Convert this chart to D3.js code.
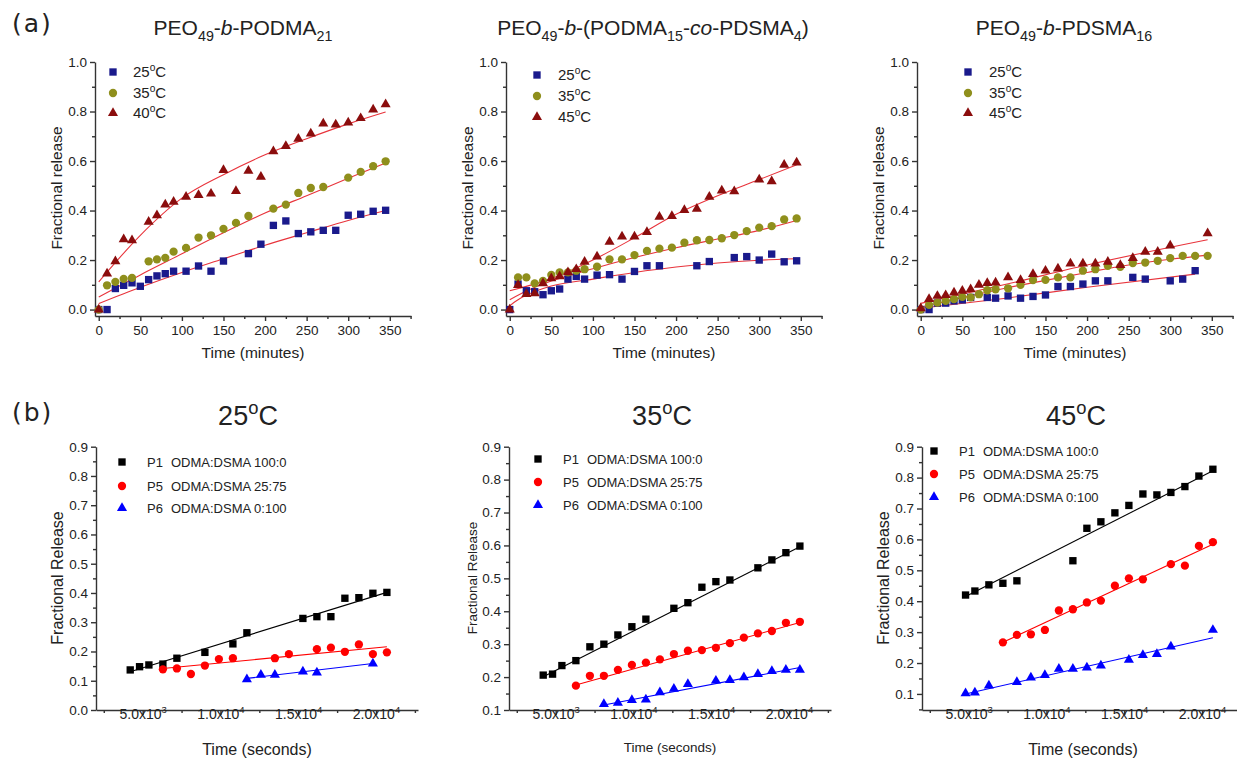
<!DOCTYPE html>
<html>
<head>
<meta charset="utf-8">
<script src="https://cdn.jsdelivr.net/npm/d3@7"></script>
<style>
  body { margin: 0; background: #fff; }
  svg { display: block; }
  text { font-family: "Liberation Sans", Arial, sans-serif; fill: #222; }
</style>
</head>
<body>
<div id="fig"></div>
<script>
// ---------- row (a): fractional release vs time (minutes) ----------
const a1_25C = [[0,0],[10,0],[20,.085],[30,.098],[40,.108],[50,.094],[60,.121],[70,.136],[80,.145],[90,.155],[105,.155],[120,.176],[135,.155],[150,.196],[180,.226],[195,.264],[210,.34],[225,.358],[240,.307],[255,.314],[270,.32],[285,.32],[300,.381],[315,.385],[330,.397],[345,.401]];
const a1_35C = [[0,0],[10,.098],[20,.112],[30,.124],[40,.128],[60,.195],[70,.203],[80,.209],[90,.234],[105,.249],[120,.291],[135,.3],[150,.326],[165,.35],[180,.378],[210,.408],[225,.424],[240,.471],[255,.491],[270,.495],[300,.533],[315,.556],[330,.579],[345,.599]];
const a1_40C = [[0,0],[10,.145],[20,.195],[30,.284],[40,.28],[60,.354],[70,.381],[80,.424],[90,.435],[105,.455],[120,.462],[135,.468],[150,.563],[165,.479],[180,.56],[195,.536],[210,.639],[225,.66],[240,.69],[255,.711],[270,.751],[285,.747],[300,.755],[315,.773],[330,.808],[345,.829]];
const a1_25C_fit = [[0,.024],[50,.09],[100,.15],[150,.205],[200,.26],[250,.31],[300,.36],[345,.40]];
const a1_35C_fit = [[0,.051],[50,.14],[100,.225],[150,.31],[200,.39],[250,.46],[300,.53],[345,.592]];
const a1_40C_fit = [[0,.112],[50,.30],[100,.45],[150,.545],[200,.625],[250,.69],[300,.75],[345,.798]];

const a2_25C = [[0,0],[10,.103],[20,.076],[30,.072],[40,.06],[50,.076],[60,.083],[70,.123],[80,.134],[90,.123],[105,.139],[120,.141],[135,.123],[150,.154],[165,.177],[180,.177],[225,.177],[240,.194],[270,.21],[285,.214],[300,.2],[315,.224],[330,.193],[345,.197]];
const a2_35C = [[10,.13],[20,.13],[30,.106],[40,.116],[50,.14],[60,.15],[70,.15],[80,.157],[90,.163],[105,.173],[120,.203],[135,.203],[150,.22],[165,.237],[180,.246],[195,.25],[210,.27],[225,.28],[240,.281],[255,.288],[270,.301],[285,.317],[300,.331],[315,.337],[330,.364],[345,.368]];
const a2_45C = [[0,0],[10,.099],[20,.063],[30,.066],[40,.106],[50,.126],[60,.134],[70,.15],[80,.163],[90,.193],[105,.214],[120,.274],[135,.295],[150,.295],[165,.313],[180,.375],[195,.378],[210,.402],[225,.407],[240,.455],[255,.481],[270,.478],[300,.525],[315,.518],[330,.585],[345,.594]];
const a2_25C_fit = [[0,.016],[10,.04],[20,.058],[50,.095],[100,.123],[150,.15],[200,.172],[250,.188],[300,.199],[345,.205]];
const a2_35C_fit = [[0,.04],[20,.075],[50,.115],[100,.165],[150,.21],[200,.25],[250,.285],[300,.32],[345,.36]];
const a2_45C_fit = [[0,.076],[50,.125],[100,.2],[150,.29],[200,.385],[250,.46],[300,.525],[345,.585]];

const a3_25C = [[0,0],[10,0],[20,.026],[30,.026],[40,.035],[50,.039],[60,.049],[80,.049],[90,.046],[105,.055],[120,.046],[135,.053],[150,.059],[165,.093],[180,.093],[195,.103],[210,.116],[225,.116],[255,.13],[270,.123],[300,.116],[315,.123],[330,.157]];
const a3_35C = [[0,0],[10,.019],[20,.028],[30,.035],[40,.042],[50,.051],[60,.049],[70,.062],[80,.078],[90,.082],[105,.086],[120,.1],[135,.119],[150,.12],[165,.13],[180,.13],[195,.157],[210,.163],[225,.177],[240,.173],[255,.188],[270,.19],[285,.197],[300,.208],[315,.217],[330,.217],[345,.217]];
const a3_45C = [[0,.005],[10,.042],[20,.055],[30,.058],[40,.069],[50,.076],[60,.082],[70,.1],[80,.107],[90,.109],[105,.13],[120,.119],[135,.143],[150,.157],[165,.166],[180,.186],[195,.186],[210,.186],[225,.193],[240,.18],[255,.208],[270,.233],[285,.233],[300,.258],[345,.308]];
const a3_25C_fit = [[0,.005],[100,.045],[200,.09],[330,.143]];
const a3_35C_fit = [[0,.01],[50,.048],[100,.085],[150,.118],[200,.15],[250,.18],[300,.203],[345,.22]];
const a3_45C_fit = [[0,.025],[100,.1],[200,.18],[345,.282]];

// ---------- row (b): fractional release vs time (seconds) ----------
const b1_P1 = [[4200,.137],[4800,.148],[5400,.154],[6300,.157],[7200,.177],[9000,.197],[10800,.226],[11700,.264],[15300,.313],[16200,.319],[17100,.319],[18000,.382],[18900,.384],[19800,.399],[20700,.402]];
const b1_P5 = [[6300,.139],[7200,.142],[8100,.123],[9000,.152],[9900,.174],[10800,.177],[13500,.177],[14400,.191],[16200,.208],[17100,.213],[18000,.199],[18900,.224],[19800,.191],[20700,.197]];
const b1_P6 = [[11700,.105],[12600,.12],[13500,.12],[15300,.131],[16200,.128],[19800,.159]];
const b1_P1_fit = [[4200,.131],[20700,.402]];
const b1_P5_fit = [[6300,.142],[20700,.216]];
const b1_P6_fit = [[11700,.108],[19800,.159]];

const b2_P1 = [[4200,.206],[4800,.209],[5400,.235],[6300,.25],[7200,.292],[8100,.3],[9000,.328],[9900,.353],[10800,.376],[12600,.409],[13500,.426],[14400,.473],[15300,.49],[16200,.495],[18000,.532],[18900,.556],[19800,.578],[20700,.598]];
const b2_P5 = [[6300,.174],[7200,.204],[8100,.204],[9000,.222],[9900,.237],[10800,.244],[11700,.254],[12600,.27],[13500,.28],[14400,.282],[15300,.289],[16200,.303],[17100,.32],[18000,.333],[18900,.34],[19800,.365],[20700,.368]];
const b2_P6 = [[8100,.118],[9000,.122],[9900,.13],[10800,.132],[11700,.154],[12600,.164],[13500,.179],[15300,.189],[16200,.191],[17100,.199],[18000,.209],[18900,.218],[19800,.222],[20700,.222]];
const b2_P1_fit = [[4200,.201],[20700,.596]];
const b2_P5_fit = [[6300,.176],[20700,.366]];
const b2_P6_fit = [[8100,.115],[20700,.229]];

const b3_P1 = [[4800,.42],[5400,.433],[6300,.453],[7200,.458],[8100,.466],[11700,.531],[12600,.636],[13500,.657],[14400,.686],[15300,.71],[16200,.747],[17100,.744],[18000,.752],[18900,.771],[19800,.805],[20700,.827]];
const b3_P5 = [[7200,.267],[8100,.291],[9000,.293],[9900,.307],[10800,.37],[11700,.374],[12600,.396],[13500,.402],[14400,.45],[15300,.474],[16200,.471],[18000,.52],[18900,.515],[19800,.579],[20700,.591]];
const b3_P6 = [[4800,.102],[5400,.104],[6300,.127],[8100,.138],[9000,.153],[9900,.161],[10800,.181],[11700,.181],[12600,.185],[13500,.192],[15300,.21],[16200,.226],[17100,.229],[18000,.253],[20700,.307]];
const b3_P1_fit = [[4800,.415],[20700,.822]];
const b3_P5_fit = [[7200,.267],[20700,.584]];
const b3_P6_fit = [[4800,.1],[20700,.282]];

// ticks
const aXTicks = [0,50,100,150,200,250,300,350];
const aXMinor = [25,75,125,175,225,275,325,375];
const aYTicks = [0,.2,.4,.6,.8,1.0];
const aYMinor = [.1,.3,.5,.7,.9];
const bXTicks = [5000,10000,15000,20000];
const bXTickLabels = [["5.0x10","3"],["1.0x10","4"],["1.5x10","4"],["2.0x10","4"]];
const bXMinor = [2500,7500,12500,17500,22500];

const width = 1237, height = 758;

const svg = d3.select("#fig").append("svg")
  .attr("width", width)
  .attr("height", height);

// text with sub/sup/italic pieces
function rich(textSel, parts) {
  const fs = parseFloat(textSel.attr("font-size"));
  let shift = 0;
  parts.forEach(([s, mode]) => {
    const want = mode === "sub" ? 0.3 * fs : mode === "sup" ? -0.42 * fs : 0;
    const ts = textSel.append("tspan").text(s).attr("dy", want - shift);
    shift = want;
    if (mode === "sub" || mode === "sup") ts.attr("font-size", fs * 0.68);
    if (mode === "it") ts.attr("font-style", "italic");
  });
  return textSel;
}

const rowA = { top: 62, bottom: 316, width: 316, xDomain: [-4.5, 375.5], yDomain: [-0.026, 1.0] };
const rowB = { top: 446.7, bottom: 710, width: 322, xDomain: [2000, 22700] };

const aColors = ["#1a1a8c", "#8f8f1c", "#8b0d0d"];
const bColors = ["#000000", "#ff0000", "#0000ff"];
const shapes = [d3.symbolSquare, d3.symbolCircle, d3.symbolTriangle];
const sizes = [54, 54, 44];

const panels = [
  { ...rowA, left: 95, row: "a",
    series: [a1_25C, a1_35C, a1_40C], fits: [a1_25C_fit, a1_35C_fit, a1_40C_fit],
    temps: ["25", "35", "40"], legend: { dx: 18, tx: 38, ys: [72, 93, 113] },
    title: [["PEO"],["49","sub"],["-"],["b","it"],["-PODMA"],["21","sub"]], titleX: 243,
    yLab: { x: 57, fs: 15.5 }, xLab: { fs: 15.5, y: 358 } },
  { ...rowA, left: 506, row: "a",
    series: [a2_25C, a2_35C, a2_45C], fits: [a2_25C_fit, a2_35C_fit, a2_45C_fit],
    temps: ["25", "35", "45"], legend: { dx: 31, tx: 52, ys: [75, 96, 117] },
    title: [["PEO"],["49","sub"],["-"],["b","it"],["-(PODMA"],["15","sub"],["-"],["co","it"],["-PDSMA"],["4","sub"],[")"]], titleX: 653,
    yLab: { x: 468, fs: 15.5 }, xLab: { fs: 15.5, y: 358 } },
  { ...rowA, left: 917, row: "a",
    series: [a3_25C, a3_35C, a3_45C], fits: [a3_25C_fit, a3_35C_fit, a3_45C_fit],
    temps: ["25", "35", "45"], legend: { dx: 51, tx: 72, ys: [72, 93, 113] },
    title: [["PEO"],["49","sub"],["-"],["b","it"],["-PDSMA"],["16","sub"]], titleX: 1064,
    yLab: { x: 879, fs: 15.5 }, xLab: { fs: 15.5, y: 358 } },
  { ...rowB, left: 96, row: "b", yDomain: [0, 0.9],
    yTicks: d3.range(0, 0.91, 0.1), yMinor: d3.range(0.05, 0.9, 0.1),
    series: [b1_P1, b1_P5, b1_P6], fits: [b1_P1_fit, b1_P5_fit, b1_P6_fit],
    legend: { dx: 26, tx: 51, ys: [462, 486, 508] },
    title: [["25"],["o","sup"],["C"]], titleX: 248,
    yLab: { x: 57, fs: 16 }, xLab: { fs: 16, y: 755 } },
  { ...rowB, left: 509, row: "b", yDomain: [0.1, 0.9],
    yTicks: d3.range(0.1, 0.91, 0.1), yMinor: d3.range(0.15, 0.9, 0.1),
    series: [b2_P1, b2_P5, b2_P6], fits: [b2_P1_fit, b2_P5_fit, b2_P6_fit],
    legend: { dx: 29, tx: 54, ys: [459, 482, 505] },
    title: [["35"],["o","sup"],["C"]], titleX: 662,
    yLab: { x: 472, fs: 13.5 }, xLab: { fs: 13.5, y: 752 } },
  { ...rowB, left: 922, row: "b", yDomain: [0.048, 0.9],
    yTicks: d3.range(0.1, 0.91, 0.1), yMinor: d3.range(0.05, 0.9, 0.1),
    series: [b3_P1, b3_P5, b3_P6], fits: [b3_P1_fit, b3_P5_fit, b3_P6_fit],
    legend: { dx: 12, tx: 37, ys: [451, 474, 497] },
    title: [["45"],["o","sup"],["C"]], titleX: 1076,
    yLab: { x: 883, fs: 16 }, xLab: { fs: 16, y: 755 } }
];

const bLegendNames = [["P1", "ODMA:DSMA 100:0"], ["P5", "ODMA:DSMA 25:75"], ["P6", "ODMA:DSMA 0:100"]];

function styleAxis(g) {
  g.selectAll("line,path").attr("stroke", "#333").attr("stroke-width", 1.4);
  g.selectAll("text").attr("font-size", 13.5).attr("fill", "#222")
    .attr("font-family", '"Liberation Sans", Arial, sans-serif');
}

function drawPanel(p) {
  const g = svg.append("g");
  const x = d3.scaleLinear().domain(p.xDomain).range([p.left, p.left + p.width]);
  const y = d3.scaleLinear().domain(p.yDomain).range([p.bottom, p.top]);
  const isA = p.row === "a";

  // minor ticks
  g.append("g").attr("transform", `translate(0,${p.bottom})`)
    .call(d3.axisBottom(x).tickValues(isA ? aXMinor : bXMinor).tickSize(3).tickFormat("").tickSizeOuter(0))
    .call(s => s.select(".domain").remove()).call(styleAxis);
  g.append("g").attr("transform", `translate(${p.left},0)`)
    .call(d3.axisLeft(y).tickValues(isA ? aYMinor : p.yMinor).tickSize(3).tickFormat("").tickSizeOuter(0))
    .call(s => s.select(".domain").remove()).call(styleAxis);

  // major axes
  const xAxis = g.append("g").attr("transform", `translate(0,${p.bottom})`)
    .call(d3.axisBottom(x).tickValues(isA ? aXTicks : bXTicks).tickSize(5).tickSizeOuter(0).tickPadding(4)
      .tickFormat(isA ? d3.format("d") : () => ""))
    .call(styleAxis);
  if (!isA) {
    xAxis.selectAll(".tick text").each(function(d, i) {
      const t = d3.select(this).attr("font-size", 14);
      t.text(null);
      rich(t, [[bXTickLabels[i][0]], [bXTickLabels[i][1], "sup"]]);
    });
  }
  g.append("g").attr("transform", `translate(${p.left},0)`)
    .call(d3.axisLeft(y).tickValues(isA ? aYTicks : p.yTicks).tickSize(5).tickSizeOuter(0).tickFormat(d3.format(".1f")))
    .call(styleAxis);

  // axis labels
  g.append("text")
    .attr("transform", `translate(${p.yLab.x},${isA ? 188 : 578}) rotate(-90)`)
    .attr("text-anchor", "middle").attr("dy", "0.35em")
    .attr("font-size", p.yLab.fs)
    .text(isA ? "Fractional release" : "Fractional Release");
  g.append("text")
    .attr("x", p.left + p.width / 2).attr("y", p.xLab.y)
    .attr("text-anchor", "middle")
    .attr("font-size", p.xLab.fs)
    .text(isA ? "Time (minutes)" : "Time (seconds)");

  // title
  rich(svg.append("text")
    .attr("x", p.titleX).attr("y", isA ? 35 : 425)
    .attr("text-anchor", "middle")
    .attr("font-size", isA ? 21 : 27), p.title);

  const colors = isA ? aColors : bColors;
  const line = d3.line().x(d => x(d[0])).y(d => y(d[1])).curve(d3.curveMonotoneX);

  // fit lines
  p.fits.forEach((f, i) => {
    g.append("path").datum(f)
      .attr("d", line)
      .attr("fill", "none")
      .attr("stroke", isA ? "#e8333b" : colors[i])
      .attr("stroke-width", 1.1);
  });

  // points (highest temperature drawn last)
  p.series.forEach((s, i) => {
    g.append("g").selectAll("path")
      .data(s)
      .join("path")
      .attr("transform", d => `translate(${x(d[0])},${y(d[1])})`)
      .attr("d", d3.symbol().type(shapes[i]).size(sizes[i]))
      .attr("fill", colors[i]);
  });

  // legend
  const lg = g.append("g");
  p.legend.ys.forEach((ly, i) => {
    lg.append("path")
      .attr("transform", `translate(${p.left + p.legend.dx},${ly})`)
      .attr("d", d3.symbol().type(shapes[i]).size(sizes[i]))
      .attr("fill", colors[i]);
    if (isA) {
      rich(lg.append("text")
        .attr("x", p.left + p.legend.tx).attr("y", ly + 5)
        .attr("font-size", 15), [[p.temps[i]], ["o", "sup"], ["C"]]);
    } else {
      lg.append("text").attr("x", p.left + p.legend.tx).attr("y", ly + 5)
        .attr("font-size", 13).text(bLegendNames[i][0]);
      lg.append("text").attr("x", p.left + p.legend.tx + 24).attr("y", ly + 5)
        .attr("font-size", 13).text(bLegendNames[i][1]);
    }
  });
}

panels.forEach(drawPanel);

// panel letters
svg.append("text").attr("x", 12).attr("y", 32)
  .attr("font-size", 25).attr("letter-spacing", 2)
  .style("font-family", "DejaVu Sans").text("(a)");
svg.append("text").attr("x", 12).attr("y", 421)
  .attr("font-size", 25).attr("letter-spacing", 2)
  .style("font-family", "DejaVu Sans").text("(b)");
</script>
</body>
</html>
